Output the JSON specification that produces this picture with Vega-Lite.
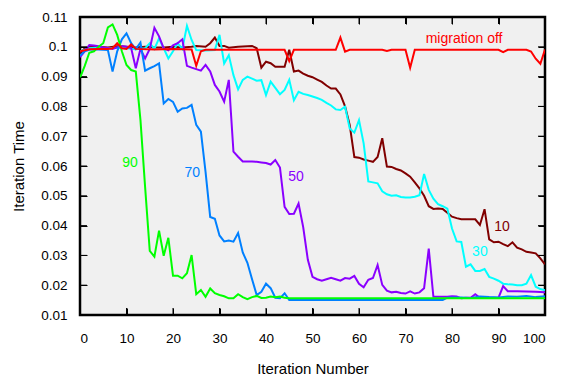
{
"$schema": "https://vega.github.io/schema/vega-lite/v6.json",
"width": 465, "height": 298,
"autosize": {"type": "none"},
"padding": {"left": 80, "top": 17, "right": 21, "bottom": 64},
"background": "white",
"datasets": {
 "xt": [{"v":0},{"v":10},{"v":20},{"v":30},{"v":40},{"v":50},{"v":60},{"v":70},{"v":80},{"v":90},{"v":100}],
 "yt": [{"v":0.01},{"v":0.02},{"v":0.03},{"v":0.04},{"v":0.05},{"v":0.06},{"v":0.07},{"v":0.08},{"v":0.09},{"v":0.1},{"v":0.11}]
},
"config": {
 "font": "Liberation Sans",
 "view": {"stroke": "black", "strokeWidth": 2.5},
 "axis": {"grid": false, "domain": false, "ticks": true, "tickColor": "black", "tickSize": 7, "offset": -7, "tickWidth": 1, "labelFont": "Liberation Sans", "labelFontSize": 13.5, "labelColor": "black", "titleFont": "Liberation Sans", "titleFontSize": 15, "titleFontWeight": "normal", "titleColor": "black"}
},
"resolve": {"axis": {"x": "independent", "y": "independent"}},
"layer": [
{
 "data": {"values": [{}]},
 "mark": {"type": "rect", "color": "black", "fillOpacity": 0.0588, "strokeWidth": 0},
 "encoding": {
  "x": {"datum": 0, "type": "quantitative", "axis": null},
  "x2": {"datum": 100},
  "y": {"datum": 0.01, "type": "quantitative", "axis": null},
  "y2": {"datum": 0.11}
 }
},
{
 "data": {"name": "xt"},
 "mark": {"type": "rule", "color": "black", "strokeWidth": 1},
 "encoding": {
  "x": {"field": "v", "type": "quantitative", "axis": null},
  "y": {"datum": 0.01, "type": "quantitative", "axis": null},
  "y2": {"datum": 0.01235}
 }
},
{
 "data": {"name": "xt"},
 "mark": {"type": "rule", "color": "black", "strokeWidth": 1},
 "encoding": {
  "x": {"field": "v", "type": "quantitative", "axis": null},
  "y": {"datum": 0.10765, "type": "quantitative", "axis": null},
  "y2": {"datum": 0.11}
 }
},
{
 "data": {"name": "yt"},
 "mark": {"type": "rule", "color": "black", "strokeWidth": 1},
 "encoding": {
  "y": {"field": "v", "type": "quantitative", "axis": null},
  "x": {"datum": 0, "type": "quantitative", "axis": null},
  "x2": {"datum": 1.5}
 }
},
{
 "data": {"name": "yt"},
 "mark": {"type": "rule", "color": "black", "strokeWidth": 1},
 "encoding": {
  "y": {"field": "v", "type": "quantitative", "axis": null},
  "x": {"datum": 98.5, "type": "quantitative", "axis": null},
  "x2": {"datum": 100}
 }
},
{
 "data": {"values": [
{"s":"10","x":0,"y":0.0975},{"s":"10","x":1,"y":0.0995},{"s":"10","x":2,"y":0.1},{"s":"10","x":4,"y":0.1},{"s":"10","x":6,"y":0.0998},{"s":"10","x":8,"y":0.1002},{"s":"10","x":10,"y":0.1},{"s":"10","x":12,"y":0.0998},{"s":"10","x":14,"y":0.1},{"s":"10","x":16,"y":0.0998},{"s":"10","x":18,"y":0.0998},{"s":"10","x":20,"y":0.1},{"s":"10","x":22,"y":0.0998},{"s":"10","x":24,"y":0.1},{"s":"10","x":25,"y":0.1003},{"s":"10","x":27,"y":0.1},{"s":"10","x":28,"y":0.1012},{"s":"10","x":29,"y":0.1031},{"s":"10","x":30,"y":0.1003},{"s":"10","x":31,"y":0.1003},{"s":"10","x":32,"y":0.0997},{"s":"10","x":34,"y":0.1},{"s":"10","x":36,"y":0.1002},{"s":"10","x":37,"y":0.1003},{"s":"10","x":38,"y":0.0995},{"s":"10","x":39,"y":0.093},{"s":"10","x":40,"y":0.095},{"s":"10","x":41,"y":0.0945},{"s":"10","x":42,"y":0.0933},{"s":"10","x":44,"y":0.0933},{"s":"10","x":45,"y":0.099},{"s":"10","x":46,"y":0.0917},{"s":"10","x":47,"y":0.092},{"s":"10","x":48,"y":0.091},{"s":"10","x":49,"y":0.0903},{"s":"10","x":50,"y":0.0898},{"s":"10","x":51,"y":0.089},{"s":"10","x":52,"y":0.0882},{"s":"10","x":53,"y":0.087},{"s":"10","x":54,"y":0.086},{"s":"10","x":55,"y":0.086},{"s":"10","x":56,"y":0.084},{"s":"10","x":57,"y":0.08},{"s":"10","x":58,"y":0.0738},{"s":"10","x":59,"y":0.063},{"s":"10","x":60,"y":0.0628},{"s":"10","x":61,"y":0.0622},{"s":"10","x":62,"y":0.0618},{"s":"10","x":63,"y":0.0614},{"s":"10","x":64,"y":0.063},{"s":"10","x":65,"y":0.0693},{"s":"10","x":66,"y":0.0598},{"s":"10","x":67,"y":0.0597},{"s":"10","x":68,"y":0.059},{"s":"10","x":69,"y":0.0585},{"s":"10","x":70,"y":0.0575},{"s":"10","x":71,"y":0.0564},{"s":"10","x":72,"y":0.0545},{"s":"10","x":73,"y":0.0525},{"s":"10","x":74,"y":0.05},{"s":"10","x":75,"y":0.0465},{"s":"10","x":76,"y":0.0456},{"s":"10","x":77,"y":0.0457},{"s":"10","x":78,"y":0.0456},{"s":"10","x":79,"y":0.0443},{"s":"10","x":80,"y":0.043},{"s":"10","x":81,"y":0.0425},{"s":"10","x":82,"y":0.0421},{"s":"10","x":85,"y":0.0421},{"s":"10","x":86,"y":0.0402},{"s":"10","x":87,"y":0.0455},{"s":"10","x":88,"y":0.0354},{"s":"10","x":89,"y":0.0344},{"s":"10","x":90,"y":0.0346},{"s":"10","x":91,"y":0.0338},{"s":"10","x":92,"y":0.0331},{"s":"10","x":93,"y":0.0344},{"s":"10","x":94,"y":0.0326},{"s":"10","x":95,"y":0.032},{"s":"10","x":96,"y":0.0312},{"s":"10","x":97,"y":0.031},{"s":"10","x":98,"y":0.0307},{"s":"10","x":99,"y":0.029},{"s":"10","x":100,"y":0.027},
{"s":"30","x":0,"y":0.0985},{"s":"30","x":2,"y":0.0995},{"s":"30","x":4,"y":0.0998},{"s":"30","x":6,"y":0.0995},{"s":"30","x":8,"y":0.0997},{"s":"30","x":10,"y":0.0995},{"s":"30","x":12,"y":0.0992},{"s":"30","x":14,"y":0.0995},{"s":"30","x":15,"y":0.1012},{"s":"30","x":16,"y":0.0993},{"s":"30","x":17,"y":0.1028},{"s":"30","x":18,"y":0.0995},{"s":"30","x":19,"y":0.0961},{"s":"30","x":20,"y":0.0985},{"s":"30","x":21,"y":0.1012},{"s":"30","x":22,"y":0.0993},{"s":"30","x":23,"y":0.107},{"s":"30","x":24,"y":0.1023},{"s":"30","x":25,"y":0.0989},{"s":"30","x":27,"y":0.0988},{"s":"30","x":29,"y":0.0989},{"s":"30","x":30,"y":0.104},{"s":"30","x":31,"y":0.0944},{"s":"30","x":32,"y":0.0972},{"s":"30","x":33,"y":0.0905},{"s":"30","x":34,"y":0.0857},{"s":"30","x":35,"y":0.0889},{"s":"30","x":36,"y":0.09},{"s":"30","x":37,"y":0.0893},{"s":"30","x":38,"y":0.0886},{"s":"30","x":39,"y":0.0888},{"s":"30","x":40,"y":0.0838},{"s":"30","x":41,"y":0.0883},{"s":"30","x":42,"y":0.0862},{"s":"30","x":43,"y":0.0841},{"s":"30","x":44,"y":0.0855},{"s":"30","x":45,"y":0.0889},{"s":"30","x":46,"y":0.0821},{"s":"30","x":47,"y":0.0849},{"s":"30","x":48,"y":0.0842},{"s":"30","x":49,"y":0.0838},{"s":"30","x":50,"y":0.0833},{"s":"30","x":51,"y":0.0828},{"s":"30","x":52,"y":0.0822},{"s":"30","x":53,"y":0.0812},{"s":"30","x":54,"y":0.0803},{"s":"30","x":55,"y":0.079},{"s":"30","x":56,"y":0.0788},{"s":"30","x":57,"y":0.0799},{"s":"30","x":58,"y":0.0726},{"s":"30","x":59,"y":0.0712},{"s":"30","x":60,"y":0.0754},{"s":"30","x":61,"y":0.0676},{"s":"30","x":62,"y":0.0548},{"s":"30","x":63,"y":0.0545},{"s":"30","x":64,"y":0.0542},{"s":"30","x":65,"y":0.0515},{"s":"30","x":66,"y":0.0505},{"s":"30","x":67,"y":0.05},{"s":"30","x":68,"y":0.0502},{"s":"30","x":69,"y":0.0496},{"s":"30","x":70,"y":0.0494},{"s":"30","x":71,"y":0.0494},{"s":"30","x":72,"y":0.0497},{"s":"30","x":73,"y":0.0502},{"s":"30","x":74,"y":0.0573},{"s":"30","x":75,"y":0.052},{"s":"30","x":76,"y":0.049},{"s":"30","x":77,"y":0.0472},{"s":"30","x":78,"y":0.0465},{"s":"30","x":79,"y":0.0457},{"s":"30","x":80,"y":0.039},{"s":"30","x":81,"y":0.0347},{"s":"30","x":82,"y":0.0345},{"s":"30","x":83,"y":0.0262},{"s":"30","x":84,"y":0.027},{"s":"30","x":85,"y":0.0248},{"s":"30","x":86,"y":0.0248},{"s":"30","x":87,"y":0.0254},{"s":"30","x":88,"y":0.0228},{"s":"30","x":89,"y":0.0222},{"s":"30","x":90,"y":0.0215},{"s":"30","x":91,"y":0.0205},{"s":"30","x":92,"y":0.0203},{"s":"30","x":93,"y":0.0202},{"s":"30","x":94,"y":0.02},{"s":"30","x":95,"y":0.02},{"s":"30","x":96,"y":0.0205},{"s":"30","x":97,"y":0.0234},{"s":"30","x":98,"y":0.0195},{"s":"30","x":99,"y":0.0187},{"s":"30","x":100,"y":0.0183},
{"s":"50","x":0,"y":0.0965},{"s":"50","x":1,"y":0.0985},{"s":"50","x":2,"y":0.1006},{"s":"50","x":3,"y":0.1004},{"s":"50","x":4,"y":0.1002},{"s":"50","x":5,"y":0.0998},{"s":"50","x":6,"y":0.0996},{"s":"50","x":7,"y":0.0993},{"s":"50","x":8,"y":0.0998},{"s":"50","x":9,"y":0.1003},{"s":"50","x":10,"y":0.1},{"s":"50","x":11,"y":0.0996},{"s":"50","x":12,"y":0.0928},{"s":"50","x":13,"y":0.0993},{"s":"50","x":14,"y":0.0961},{"s":"50","x":15,"y":0.0993},{"s":"50","x":16,"y":0.1064},{"s":"50","x":17,"y":0.1035},{"s":"50","x":18,"y":0.0995},{"s":"50","x":19,"y":0.0988},{"s":"50","x":20,"y":0.1005},{"s":"50","x":21,"y":0.1012},{"s":"50","x":22,"y":0.1025},{"s":"50","x":23,"y":0.0936},{"s":"50","x":24,"y":0.093},{"s":"50","x":25,"y":0.0925},{"s":"50","x":26,"y":0.092},{"s":"50","x":27,"y":0.0939},{"s":"50","x":28,"y":0.0917},{"s":"50","x":29,"y":0.0872},{"s":"50","x":30,"y":0.085},{"s":"50","x":31,"y":0.0816},{"s":"50","x":32,"y":0.0889},{"s":"50","x":33,"y":0.0648},{"s":"50","x":34,"y":0.0631},{"s":"50","x":35,"y":0.0615},{"s":"50","x":36,"y":0.0615},{"s":"50","x":37,"y":0.0615},{"s":"50","x":38,"y":0.0614},{"s":"50","x":39,"y":0.0612},{"s":"50","x":40,"y":0.061},{"s":"50","x":41,"y":0.0605},{"s":"50","x":42,"y":0.062},{"s":"50","x":43,"y":0.0595},{"s":"50","x":44,"y":0.0463},{"s":"50","x":45,"y":0.0439},{"s":"50","x":46,"y":0.044},{"s":"50","x":47,"y":0.0474},{"s":"50","x":48,"y":0.0395},{"s":"50","x":49,"y":0.0285},{"s":"50","x":50,"y":0.0228},{"s":"50","x":51,"y":0.022},{"s":"50","x":52,"y":0.0215},{"s":"50","x":53,"y":0.022},{"s":"50","x":54,"y":0.0225},{"s":"50","x":55,"y":0.022},{"s":"50","x":56,"y":0.0215},{"s":"50","x":57,"y":0.0224},{"s":"50","x":58,"y":0.0222},{"s":"50","x":59,"y":0.0231},{"s":"50","x":60,"y":0.0205},{"s":"50","x":61,"y":0.0193},{"s":"50","x":62,"y":0.0218},{"s":"50","x":63,"y":0.0224},{"s":"50","x":64,"y":0.0268},{"s":"50","x":65,"y":0.0201},{"s":"50","x":66,"y":0.0182},{"s":"50","x":67,"y":0.0176},{"s":"50","x":68,"y":0.0178},{"s":"50","x":69,"y":0.0174},{"s":"50","x":70,"y":0.0172},{"s":"50","x":71,"y":0.0179},{"s":"50","x":72,"y":0.0172},{"s":"50","x":73,"y":0.0176},{"s":"50","x":74,"y":0.019},{"s":"50","x":75,"y":0.0323},{"s":"50","x":76,"y":0.0161},{"s":"50","x":77,"y":0.0161},{"s":"50","x":78,"y":0.0161},{"s":"50","x":79,"y":0.0161},{"s":"50","x":80,"y":0.0163},{"s":"50","x":81,"y":0.0162},{"s":"50","x":82,"y":0.0156},{"s":"50","x":83,"y":0.0158},{"s":"50","x":84,"y":0.0158},{"s":"50","x":85,"y":0.017},{"s":"50","x":86,"y":0.0158},{"s":"50","x":90,"y":0.0158},{"s":"50","x":91,"y":0.0197},{"s":"50","x":92,"y":0.018},{"s":"50","x":94,"y":0.018},{"s":"50","x":96,"y":0.0179},{"s":"50","x":98,"y":0.0178},{"s":"50","x":100,"y":0.0176},
{"s":"70","x":0,"y":0.097},{"s":"70","x":1,"y":0.0985},{"s":"70","x":2,"y":0.099},{"s":"70","x":3,"y":0.0991},{"s":"70","x":4,"y":0.0991},{"s":"70","x":5,"y":0.099},{"s":"70","x":6,"y":0.0989},{"s":"70","x":7,"y":0.0917},{"s":"70","x":8,"y":0.0985},{"s":"70","x":9,"y":0.1025},{"s":"70","x":10,"y":0.1045},{"s":"70","x":11,"y":0.1012},{"s":"70","x":12,"y":0.0992},{"s":"70","x":13,"y":0.1014},{"s":"70","x":14,"y":0.092},{"s":"70","x":15,"y":0.0928},{"s":"70","x":16,"y":0.0935},{"s":"70","x":17,"y":0.0944},{"s":"70","x":18,"y":0.081},{"s":"70","x":19,"y":0.0825},{"s":"70","x":20,"y":0.0815},{"s":"70","x":21,"y":0.0782},{"s":"70","x":22,"y":0.0793},{"s":"70","x":23,"y":0.0795},{"s":"70","x":24,"y":0.0805},{"s":"70","x":25,"y":0.0738},{"s":"70","x":26,"y":0.0715},{"s":"70","x":27,"y":0.058},{"s":"70","x":28,"y":0.0429},{"s":"70","x":29,"y":0.0423},{"s":"70","x":30,"y":0.0367},{"s":"70","x":31,"y":0.0347},{"s":"70","x":32,"y":0.035},{"s":"70","x":33,"y":0.0346},{"s":"70","x":34,"y":0.0375},{"s":"70","x":35,"y":0.031},{"s":"70","x":36,"y":0.0275},{"s":"70","x":37,"y":0.022},{"s":"70","x":38,"y":0.0167},{"s":"70","x":39,"y":0.0178},{"s":"70","x":40,"y":0.0205},{"s":"70","x":41,"y":0.019},{"s":"70","x":42,"y":0.0158},{"s":"70","x":43,"y":0.0156},{"s":"70","x":44,"y":0.0173},{"s":"70","x":45,"y":0.015},{"s":"70","x":78,"y":0.015},{"s":"70","x":79,"y":0.0158},{"s":"70","x":82,"y":0.0159},{"s":"70","x":84,"y":0.0157},{"s":"70","x":86,"y":0.0162},{"s":"70","x":88,"y":0.016},{"s":"70","x":90,"y":0.0159},{"s":"70","x":92,"y":0.0162},{"s":"70","x":94,"y":0.0161},{"s":"70","x":96,"y":0.0164},{"s":"70","x":98,"y":0.016},{"s":"70","x":100,"y":0.0163},
{"s":"90","x":0,"y":0.0896},{"s":"90","x":1,"y":0.0935},{"s":"90","x":2,"y":0.098},{"s":"90","x":3,"y":0.0985},{"s":"90","x":4,"y":0.1},{"s":"90","x":5,"y":0.1012},{"s":"90","x":6,"y":0.1065},{"s":"90","x":7,"y":0.1075},{"s":"90","x":8,"y":0.104},{"s":"90","x":9,"y":0.0985},{"s":"90","x":10,"y":0.0939},{"s":"90","x":11,"y":0.0922},{"s":"90","x":12,"y":0.0917},{"s":"90","x":13,"y":0.0755},{"s":"90","x":14,"y":0.053},{"s":"90","x":15,"y":0.0315},{"s":"90","x":16,"y":0.0296},{"s":"90","x":17,"y":0.0383},{"s":"90","x":18,"y":0.0299},{"s":"90","x":19,"y":0.0359},{"s":"90","x":20,"y":0.0232},{"s":"90","x":21,"y":0.0232},{"s":"90","x":22,"y":0.0223},{"s":"90","x":23,"y":0.024},{"s":"90","x":24,"y":0.0301},{"s":"90","x":25,"y":0.017},{"s":"90","x":26,"y":0.0184},{"s":"90","x":27,"y":0.0161},{"s":"90","x":28,"y":0.0189},{"s":"90","x":29,"y":0.0173},{"s":"90","x":30,"y":0.0167},{"s":"90","x":31,"y":0.0163},{"s":"90","x":32,"y":0.0156},{"s":"90","x":33,"y":0.0156},{"s":"90","x":34,"y":0.017},{"s":"90","x":35,"y":0.016},{"s":"90","x":36,"y":0.0153},{"s":"90","x":37,"y":0.016},{"s":"90","x":38,"y":0.0164},{"s":"90","x":39,"y":0.0157},{"s":"90","x":40,"y":0.0158},{"s":"90","x":41,"y":0.0162},{"s":"90","x":42,"y":0.016},{"s":"90","x":43,"y":0.0162},{"s":"90","x":44,"y":0.0158},{"s":"90","x":45,"y":0.0156},{"s":"90","x":100,"y":0.0156},
{"s":"migration off","x":0,"y":0.0985},{"s":"migration off","x":2,"y":0.0992},{"s":"migration off","x":4,"y":0.0993},{"s":"migration off","x":6,"y":0.0993},{"s":"migration off","x":7,"y":0.0995},{"s":"migration off","x":8,"y":0.1012},{"s":"migration off","x":9,"y":0.0995},{"s":"migration off","x":10,"y":0.0993},{"s":"migration off","x":11,"y":0.1008},{"s":"migration off","x":12,"y":0.0993},{"s":"migration off","x":16,"y":0.0991},{"s":"migration off","x":20,"y":0.0993},{"s":"migration off","x":24,"y":0.0991},{"s":"migration off","x":25,"y":0.0936},{"s":"migration off","x":26,"y":0.0985},{"s":"migration off","x":27,"y":0.099},{"s":"migration off","x":44,"y":0.099},{"s":"migration off","x":45,"y":0.0952},{"s":"migration off","x":46,"y":0.099},{"s":"migration off","x":55,"y":0.099},{"s":"migration off","x":56,"y":0.1031},{"s":"migration off","x":57,"y":0.0984},{"s":"migration off","x":58,"y":0.099},{"s":"migration off","x":65,"y":0.099},{"s":"migration off","x":66,"y":0.0986},{"s":"migration off","x":67,"y":0.099},{"s":"migration off","x":70,"y":0.099},{"s":"migration off","x":71,"y":0.093},{"s":"migration off","x":72,"y":0.099},{"s":"migration off","x":90,"y":0.099},{"s":"migration off","x":91,"y":0.0982},{"s":"migration off","x":92,"y":0.099},{"s":"migration off","x":96,"y":0.099},{"s":"migration off","x":97,"y":0.0984},{"s":"migration off","x":98,"y":0.096},{"s":"migration off","x":99,"y":0.0943},{"s":"migration off","x":100,"y":0.0991}
 ]},
 "mark": {"type": "line", "strokeWidth": 2, "clip": true},
 "encoding": {
  "x": {"field": "x", "type": "quantitative", "scale": {"domain": [0, 100], "nice": false, "zero": false},
        "axis": {"orient": "bottom", "zindex": 1, "values": [0,10,20,30,40,50,60,70,80,90,100], "labelPadding": 16, "title": "Iteration Number", "titleY": 65, "titleBaseline": "alphabetic"}},
  "y": {"field": "y", "type": "quantitative", "scale": {"domain": [0.01, 0.11], "nice": false, "zero": false},
        "axis": {"orient": "left", "zindex": 1, "values": [0.01,0.02,0.03,0.04,0.05,0.06,0.07,0.08,0.09,0.1,0.11], "format": ".2~f", "labelPadding": 13, "title": "Iteration Time", "titleX": -63.5, "titleY": 149, "titleBaseline": "alphabetic"}},
  "color": {"field": "s", "type": "nominal", "legend": null,
            "scale": {"domain": ["10","30","50","70","90","migration off"], "range": ["#800000","#00ffff","#8a00ff","#0080ff","#00ff00","#ff0000"]}}
 }
},
{
 "data": {"values": [
  {"s":"migration off","t":"migration off","x":82.6,"y":0.1027},
  {"s":"10","t":"10","x":90.75,"y":0.0396},
  {"s":"30","t":"30","x":86.0,"y":0.0312},
  {"s":"50","t":"50","x":46.45,"y":0.0562},
  {"s":"70","t":"70","x":24.15,"y":0.0575},
  {"s":"90","t":"90","x":10.75,"y":0.0611}
 ]},
 "mark": {"type": "text", "fontSize": 14, "font": "Liberation Sans", "align": "center", "baseline": "middle"},
 "encoding": {
  "x": {"field": "x", "type": "quantitative", "axis": {"orient": "top", "zindex": 1, "values": [0,10,20,30,40,50,60,70,80,90,100], "labels": false, "title": null}},
  "y": {"field": "y", "type": "quantitative", "axis": {"orient": "right", "zindex": 1, "values": [0.01,0.02,0.03,0.04,0.05,0.06,0.07,0.08,0.09,0.1,0.11], "labels": false, "title": null}},
  "text": {"field": "t"},
  "color": {"field": "s", "type": "nominal", "legend": null}
 }
}
]
}
